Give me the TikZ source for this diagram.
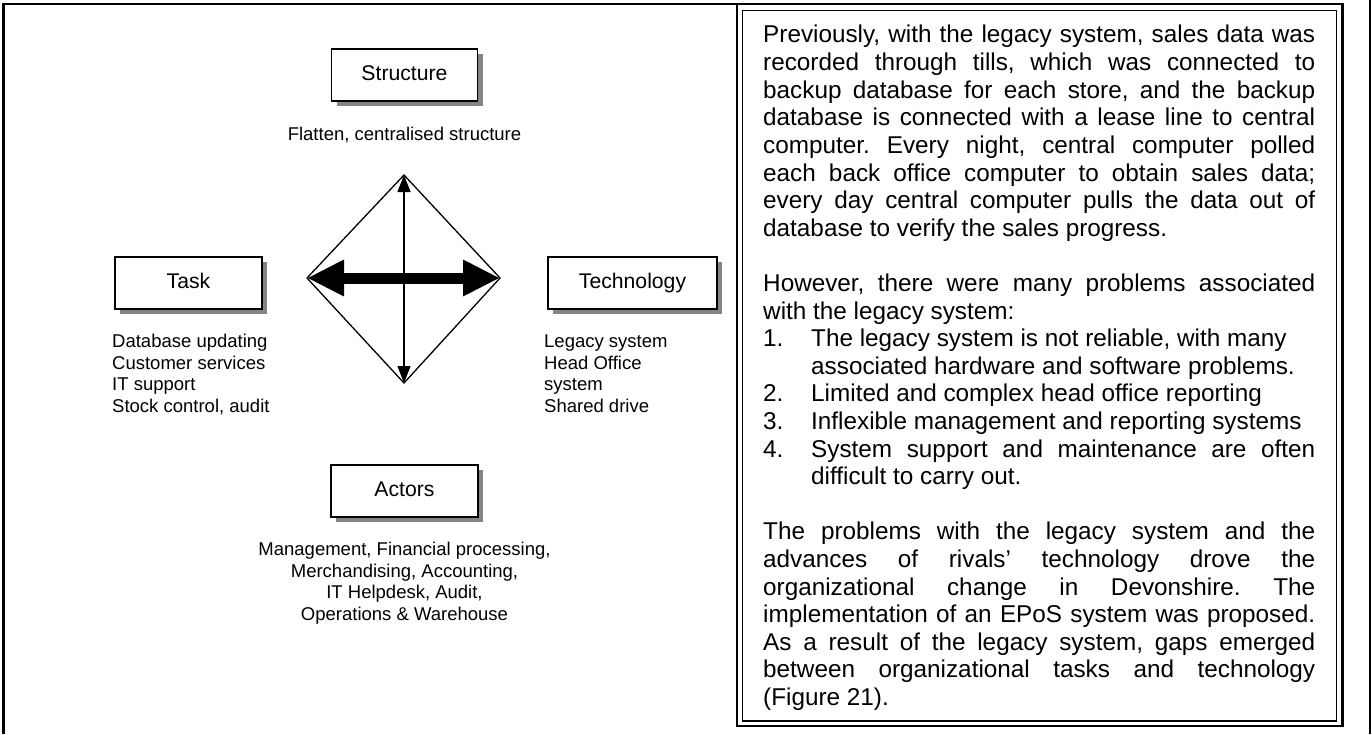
\documentclass[tikz,border=0pt]{standalone}
\usepackage{fontspec}
\setmainfont{Liberation Sans}
\usetikzlibrary{arrows.meta,shadows}
\newcommand{\rfont}{\fontsize{24.3bp}{27.6bp}\selectfont}
\newcommand{\lfont}{\fontsize{18.5bp}{21.7bp}\selectfont}
\newcommand{\bxfont}{\fontsize{21.2bp}{24bp}\selectfont}
\newcommand{\mylines}[2]{\begin{tabular}[t]{@{}#1@{}}#2\end{tabular}}
\newcommand{\jpar}[2]{\begin{minipage}[t]{#1}\rfont\frenchspacing\setlength{\parindent}{0pt}\hyphenpenalty=10000 \exhyphenpenalty=10000 \tolerance=10000 #2\end{minipage}}
\begin{document}
\begin{tikzpicture}[x=1bp,y=-1bp,
  lbox/.style={draw, line width=1.8bp, fill=white, minimum height=52bp, inner sep=0pt, font=\bxfont,
    text height=15.2bp, text depth=4.4bp,
    drop shadow={shadow xshift=5bp, shadow yshift=-5bp, fill=black!48, opacity=1}},
  desc/.style={inner sep=0pt, font=\lfont},
  para/.style={inner sep=0pt, anchor=base west},
  thin/.style={line width=1.3bp},
]
\useasboundingbox (0,0) rectangle (1372,734);
\fill[white] (0,0) rectangle (1372,734);

% outer frame
\draw[line width=2.6bp] (3.5,734) -- (3.5,4) -- (1343,4);
\draw[line width=2.6bp] (1370,0) -- (1370,734);

% text panel (double border)
\draw[line width=2.6bp] (737,4) rectangle (1342.5,726);
\draw[line width=1.2bp] (742.5,10.5) rectangle (1336.5,721);

% boxes
\node[lbox, minimum width=146bp] (structure) at (404.5,75) {Structure};
\node[lbox, minimum width=147bp] (task) at (188.5,283) {Task};
\node[lbox, minimum width=169bp] (tech) at (632.5,283) {Technology};
\node[lbox, minimum width=147bp] (actors) at (404.5,491) {Actors};

% descriptions
\node[desc, anchor=base] (structd) at (404.5,140) {Flatten, centralised structure};
\node[desc, anchor=base west] (taskd) at (112,347.5) {\mylines{l}{Database updating\\Customer services\\IT support\\Stock control, audit}};
\node[desc, anchor=base west] (techd) at (544,347.5) {\mylines{l}{Legacy system\\Head Office\\system\\Shared drive}};
\node[desc, anchor=base] (actorsd) at (404.5,555.5) {\mylines{c}{Management, Financial processing,\\Merchandising, Accounting,\\IT Helpdesk, Audit,\\Operations \& Warehouse}};

% diamond
\coordinate (dt) at (404,175);
\coordinate (db) at (404,383);
\coordinate (dl) at (307,278);
\coordinate (dr) at (500,278);
\draw[thin, line join=miter] (dt) -- (dr) -- (db) -- (dl) -- cycle;
\draw[thin, {Triangle[length=17bp 0 0,width=13bp 0 0]}-{Triangle[length=17bp 0 0,width=13bp 0 0]}] (dt) -- (db);
\draw[line width=11bp, {Triangle[length=37bp 0 0,width=34bp 0 0]}-{Triangle[length=37bp 0 0,width=34bp 0 0]}] (dl) -- (dr);

% text panel content
\node[para] (p1) at (763,43) {\jpar{552bp}{Previously, with the legacy system, sales data was\linebreak
recorded through tills, which was connected to\linebreak
backup database for each store, and the backup\linebreak
database is connected with a lease line to central\linebreak
computer. Every night, central computer polled\linebreak
each back office computer to obtain sales data;\linebreak
every day central computer pulls the data out of\linebreak
database to verify the sales progress.}};

\node[para] (p2) at (763,291.4) {\jpar{552bp}{However, there were many problems associated\linebreak
with the legacy system:}};

\node[para] (n1) at (763,346.6) {\rfont 1.};
\node[para] (i1) at (811,346.6) {\jpar{504bp}{The legacy system is not reliable, with many\\
associated hardware and software problems.}};
\node[para] (n2) at (763,401.8) {\rfont 2.};
\node[para] (i2) at (811,401.8) {\rfont Limited and complex head office reporting};
\node[para] (n3) at (763,429.4) {\rfont 3.};
\node[para] (i3) at (811,429.4) {\rfont Inflexible management and reporting systems};
\node[para] (n4) at (763,457) {\rfont 4.};
\node[para] (i4) at (811,457) {\jpar{504bp}{System support and maintenance are often\linebreak
difficult to carry out.}};

\node[para] (p3) at (763,539.8) {\jpar{552bp}{The problems with the legacy system and the\linebreak
advances of rivals’ technology drove the\linebreak
organizational change in Devonshire. The\linebreak
implementation of an EPoS system was proposed.\linebreak
As a result of the legacy system, gaps emerged\linebreak
between organizational tasks and technology\linebreak
(Figure 21).}};
\end{tikzpicture}
\end{document}
